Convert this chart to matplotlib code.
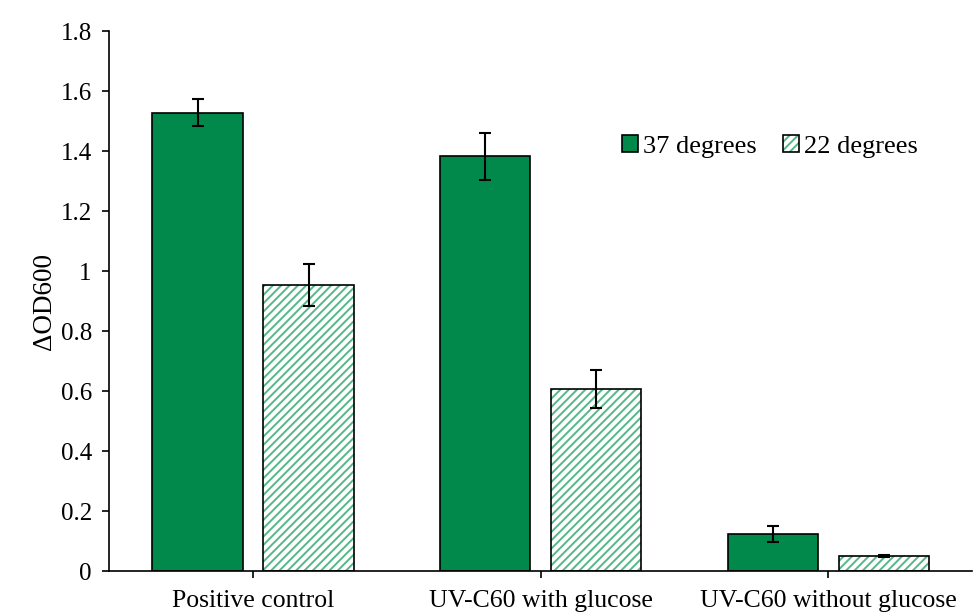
import numpy as np
import matplotlib
matplotlib.use('Agg')
import matplotlib.pyplot as plt

# values
categories = ['Positive control', 'UV-C60 with glucose', 'UV-C60 without glucose']
series = ['37 degrees', '22 degrees']
od_37 = [1.529, 1.383, 0.123]
err_37 = [0.044, 0.078, 0.026]
od_22 = [0.953, 0.606, 0.051]
err_22 = [0.070, 0.063, 0.004]
yticks = [0, 0.2, 0.4, 0.6, 0.8, 1, 1.2, 1.4, 1.6, 1.8]
ytick_labels = ['0', '0.2', '0.4', '0.6', '0.8', '1', '1.2', '1.4', '1.6', '1.8']

plt.rcParams['font.family'] = ['Liberation Serif', 'DejaVu Serif']
plt.rcParams['hatch.linewidth'] = 1.4

green = '#00894a'
hatch_green = '#55b888'

fig = plt.figure(figsize=(9.75, 6.13), dpi=100)
ax = fig.add_axes([0.112, 0.0685, 0.885, 0.8805])

x = np.arange(len(categories))
w = 0.314
off = 0.193

ax.bar(x - off, od_37, w, color=green, edgecolor='black', linewidth=1.2)
# hatch takes the edge colour, so draw the light green hatch first, then the black outline
ax.bar(x + off, od_22, w, color='white', edgecolor=hatch_green, linewidth=0,
       hatch='////')
ax.bar(x + off, od_22, w, fill=False, edgecolor='black', linewidth=1.2)
ax.errorbar(x - off, od_37, yerr=err_37, fmt='none', ecolor='black',
            elinewidth=1.5, capsize=4, capthick=1.5)
ax.errorbar(x + off, od_22, yerr=err_22, fmt='none', ecolor='black',
            elinewidth=1.5, capsize=4, capthick=1.5)

# legend handles
h1 = plt.Rectangle((0, 0), 1, 1, facecolor=green, edgecolor='black', linewidth=1.2)
h2 = plt.Rectangle((0, 0), 1, 1, facecolor='white', edgecolor=hatch_green,
                   hatch='////', linewidth=0)
h2b = plt.Rectangle((0, 0), 1, 1, fill=False, edgecolor='black', linewidth=1.2)

ax.set_xlim(-0.5, 2.5)
ax.set_ylim(0, 1.8)
ax.set_xticks(x)
ax.set_xticklabels(categories, fontsize=18.5)
ax.set_yticks(yticks)
ax.set_yticklabels(ytick_labels, fontsize=18)
ax.tick_params(axis='both', direction='out', length=5, width=1.2, colors='black')
ax.tick_params(axis='x', pad=9)
ax.tick_params(axis='y', pad=7.5)
ax.spines['top'].set_visible(False)
ax.spines['right'].set_visible(False)
ax.spines['left'].set_linewidth(1.2)
ax.spines['bottom'].set_linewidth(1.2)

ax.set_ylabel('ΔOD600', fontsize=19.5)
ax.yaxis.set_label_coords(-0.06, 0.5)

ax.legend([h1, (h2, h2b)], series, loc='center left',
          bbox_to_anchor=(0.594, 0.787), ncol=2,
          frameon=False, fontsize=19, handlelength=0.6, handleheight=0.6,
          handletextpad=0.2, columnspacing=1.0, borderpad=0, borderaxespad=0)

fig.savefig('out.png', dpi=100)
